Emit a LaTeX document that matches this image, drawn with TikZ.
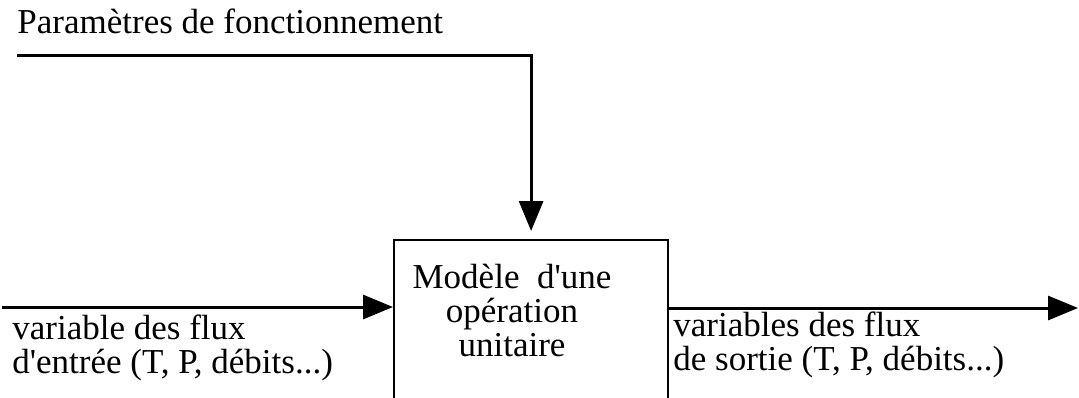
\documentclass[tikz,border=0pt]{standalone}
\usepackage{fontspec}
\setmainfont{Liberation Serif}
\usetikzlibrary{arrows.meta,positioning}

\tikzset{
  flux/.style={line width=1.5pt, -{Triangle[length=15pt,width=12pt]}},
  txt/.style={inner sep=0pt, align=left, font=\fontsize{17.5}{17}\selectfont},
}

\begin{document}
\begin{tikzpicture}[x=0.5pt,y=-0.5pt]
	\useasboundingbox (0,0) rectangle (1079,397);
	\clip (0,0) rectangle (1079,397);

	% bloc operation unitaire
	\node[draw, line width=1.1pt, inner sep=0pt, minimum width=137pt, minimum height=82pt, anchor=north west] (op) at (393,239) {};
	\node[txt, align=center, anchor=base] (optxt) at (512,356) {Mod\`ele\ \ d\textquotesingle une\\op\'eration\\unitaire};

	% parametres
	\node[txt, anchor=base west] (partxt) at (17,33) {Param\`etres de fonctionnement};
	\coordinate (par) at (17,55);
	\draw[flux, shorten >=4pt] (par) -| (op.north);

	% entree
	\coordinate (in) at (2,307);
	\draw[flux] (in) -- (in -| op.west);
	\node[txt, anchor=base west] (intxt) at (12,373) {variable des flux\\d\textquotesingle entr\'ee (T, P, d\'ebits...)};

	% sortie
	\coordinate (out) at (1078,308);
	\draw[flux] (op.east |- out) -- (out);
	\node[txt, anchor=base west] (outtxt) at (673,370) {variables des flux\\de sortie (T, P, d\'ebits...)};
\end{tikzpicture}
\end{document}
